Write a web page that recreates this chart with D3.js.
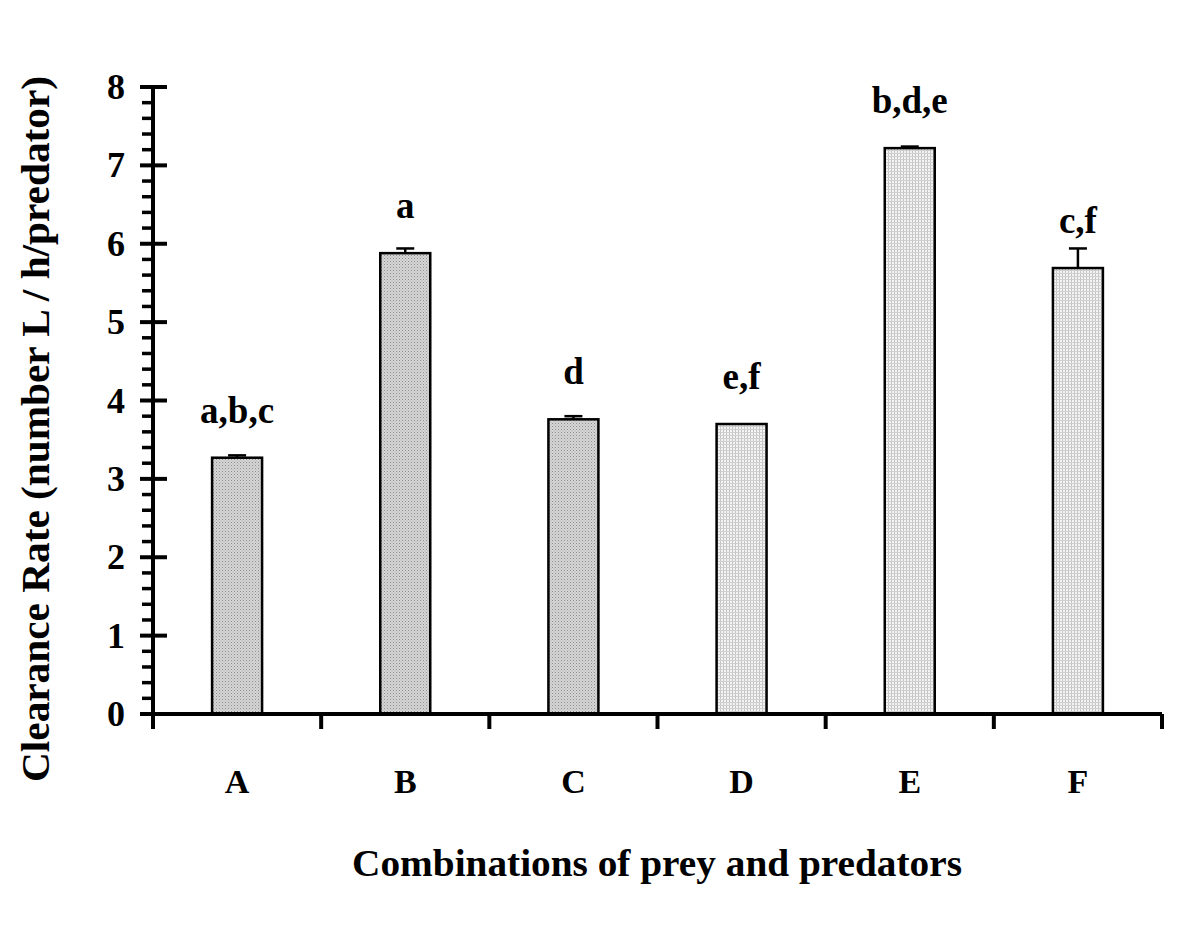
<!DOCTYPE html>
<html><head><meta charset="utf-8">
<script src="https://cdn.jsdelivr.net/npm/d3@7"></script>
<style>body{margin:0;background:#fff}text{font-family:"Liberation Serif","Times New Roman",serif;font-weight:bold;fill:#000}</style>
</head><body>
<svg id="chart" width="1200" height="926"></svg>
<script>
const categories = ["A","B","C","D","E","F"];
const values = [3.27, 5.88, 3.76, 3.70, 7.22, 5.69];
const errors = [0.03, 0.06, 0.04, 0.0, 0.02, 0.25];
const letters = ["a,b,c","a","d","e,f","b,d,e","c,f"];
const shade = ["dark","dark","dark","light","light","light"];
const yTicks = [0,1,2,3,4,5,6,7,8];

const svg = d3.select("#chart");
const m = {l:153, r:1162, t:87, b:714};
const x = d3.scaleBand().domain(categories).range([m.l, m.r]).paddingInner(0).paddingOuter(0);
const y = d3.scaleLinear().domain([0,8]).range([m.b, m.t]);

const defs = svg.append("defs");
const pd = defs.append("pattern").attr("id","dark").attr("patternUnits","userSpaceOnUse").attr("width",3).attr("height",3);
pd.append("rect").attr("width",3).attr("height",3).attr("fill","#d6d6d6");
pd.append("rect").attr("width",1).attr("height",1).attr("fill","#8c8c8c");
pd.append("rect").attr("x",1.5).attr("y",1.5).attr("width",1).attr("height",1).attr("fill","#a8a8a8");
const pl = defs.append("pattern").attr("id","light").attr("patternUnits","userSpaceOnUse").attr("width",3).attr("height",3);
pl.append("rect").attr("width",3).attr("height",3).attr("fill","#f4f4f4");
pl.append("rect").attr("width",1).attr("height",3).attr("fill","#c4c4c4");
pl.append("rect").attr("width",3).attr("height",1).attr("fill","#cfcfcf");

const bw = 50;
const data = categories.map((c,i)=>({c, v:values[i], e:errors[i], l:letters[i], s:shade[i]}));

const eg = svg.append("g");
data.forEach(d=>{
  if (d.e>0){
    const cx = x(d.c)+x.bandwidth()/2;
    eg.append("line").attr("x1",cx).attr("x2",cx).attr("y1",y(d.v)).attr("y2",y(d.v+d.e)).attr("stroke","#000").attr("stroke-width",2.5);
    eg.append("line").attr("x1",cx-9).attr("x2",cx+9).attr("y1",y(d.v+d.e)).attr("y2",y(d.v+d.e)).attr("stroke","#000").attr("stroke-width",2.5);
  }
});

svg.append("g").selectAll("rect").data(data).join("rect")
  .attr("x",d=>x(d.c)+x.bandwidth()/2-bw/2).attr("width",bw)
  .attr("y",d=>y(d.v)).attr("height",d=>y(0)-y(d.v))
  .attr("fill",d=>"url(#"+d.s+")").attr("stroke","#000").attr("stroke-width",2.5);

svg.append("g").selectAll("text").data(data).join("text")
  .attr("x",d=>x(d.c)+x.bandwidth()/2).attr("y",d=>y(d.v)-35)
  .attr("text-anchor","middle").attr("font-size",37).text(d=>d.l);

const ya = svg.append("g");
ya.append("line").attr("x1",m.l).attr("x2",m.l).attr("y1",y(8)).attr("y2",y(0)).attr("stroke","#000").attr("stroke-width",4);
const minor = d3.range(0,8.001,0.2).filter(v=>Math.abs(v-Math.round(v))>0.01);
ya.selectAll(".mn").data(minor).join("line").attr("x1",m.l-11).attr("x2",m.l).attr("y1",d=>y(d)).attr("y2",d=>y(d)).attr("stroke","#000").attr("stroke-width",3.5);
ya.selectAll(".mj").data(yTicks).join("line").attr("x1",m.l-13).attr("x2",m.l+14).attr("y1",d=>y(d)).attr("y2",d=>y(d)).attr("stroke","#000").attr("stroke-width",4);
ya.selectAll("text").data(yTicks).join("text").attr("x",125).attr("y",d=>y(d)+12).attr("text-anchor","end").attr("font-size",36).text(d=>d);

const xa = svg.append("g");
xa.append("line").attr("x1",m.l-13).attr("x2",m.r).attr("y1",y(0)).attr("y2",y(0)).attr("stroke","#000").attr("stroke-width",4);
const bounds = categories.map(c=>x(c)).concat([m.r]);
xa.selectAll(".tk").data(bounds).join("line").attr("x1",d=>d).attr("x2",d=>d).attr("y1",y(0)).attr("y2",y(0)+15).attr("stroke","#000").attr("stroke-width",4);
xa.selectAll("text").data(categories).join("text").attr("x",d=>x(d)+x.bandwidth()/2).attr("y",793).attr("text-anchor","middle").attr("font-size",34).text(d=>d);

svg.append("text").attr("x",657).attr("y",876).attr("text-anchor","middle").attr("font-size",38).attr("textLength",610).attr("lengthAdjust","spacingAndGlyphs").text("Combinations of prey and predators");
svg.append("text").attr("transform","translate(49,429) rotate(-90)").attr("text-anchor","middle").attr("font-size",39).attr("textLength",706).attr("lengthAdjust","spacingAndGlyphs").text("Clearance Rate (number L / h/predator)");
</script>
</body></html>
